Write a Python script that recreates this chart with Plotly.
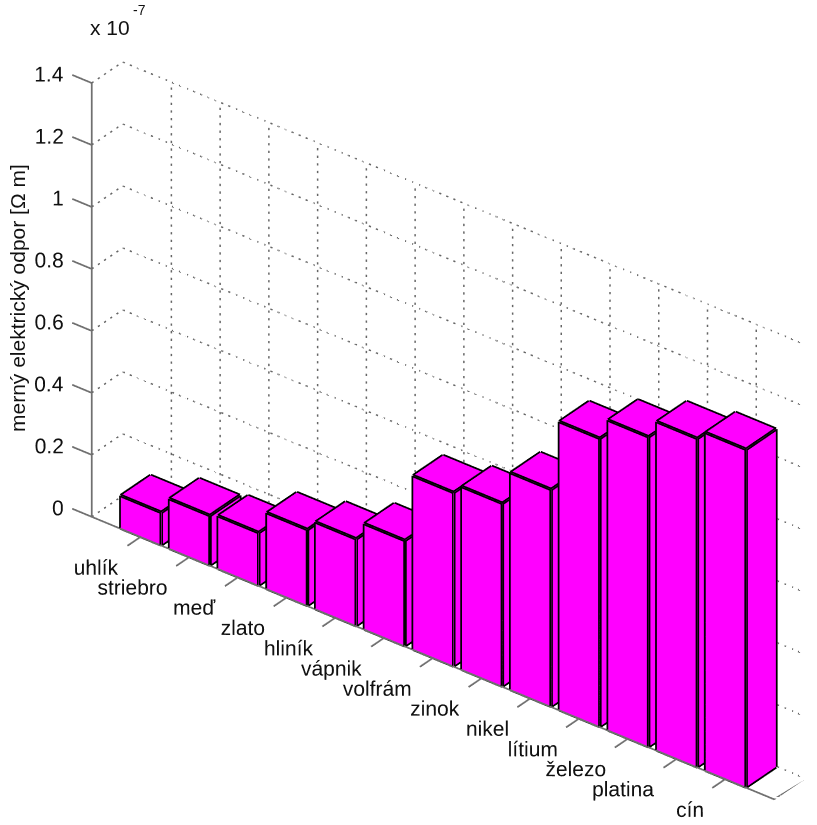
import math
import plotly.graph_objects as go

materials = ["uhlík", "striebro", "meď", "zlato", "hliník", "vápnik", "volfrám",
             "zinok", "nikel", "lítium", "železo", "platina", "cín"]
resistivity = [0.105, 0.16, 0.17, 0.245, 0.28, 0.34, 0.56, 0.59, 0.70, 0.93, 1.00, 1.06, 1.09]
z_ticks = [0, 0.2, 0.4, 0.6, 0.8, 1.0, 1.2, 1.4]
z_labels = ["0", "0.2", "0.4", "0.6", "0.8", "1", "1.2", "1.4"]

X0, X1 = 0.0, 14.0
Y0, Y1 = 0.0, 1.0
Z1 = 1.4
BW = 0.415
BY0, BY1 = 0.02, 0.98
MAGENTA = "#ff00ff"
TXT = "#111111"
FONT = "Liberation Sans"

vx, vy, vz, ti, tj, tk = [], [], [], [], [], []
ex, ey, ez = [], [], []
faces = [(0,1,2),(0,2,3),(4,5,6),(4,6,7),(0,1,5),(0,5,4),(1,2,6),(1,6,5),(2,3,7),(2,7,6),(3,0,4),(3,4,7)]
edges = [(0,1),(1,2),(2,3),(3,0),(4,5),(5,6),(6,7),(7,4),(0,4),(1,5),(2,6),(3,7)]
for n, h in enumerate(resistivity):
    c = n + 1
    pts = [(c-BW,BY0,0),(c+BW,BY0,0),(c+BW,BY1,0),(c-BW,BY1,0),
           (c-BW,BY0,h),(c+BW,BY0,h),(c+BW,BY1,h),(c-BW,BY1,h)]
    b = len(vx)
    for p in pts:
        vx.append(p[0]); vy.append(p[1]); vz.append(p[2])
    for f in faces:
        ti.append(b+f[0]); tj.append(b+f[1]); tk.append(b+f[2])
    for a, d in edges:
        ex += [pts[a][0], pts[d][0], None]
        ey += [pts[a][1], pts[d][1], None]
        ez += [pts[a][2], pts[d][2], None]

# dotted grid: short dashes along each grid line
gx, gy, gz = [], [], []
def dotted(p, q, px_len):
    steps = max(1, int(px_len / 7.6))
    for s in range(steps):
        t0 = s / steps
        t1 = (s + 0.3) / steps
        gx.extend([p[0]+(q[0]-p[0])*t0, p[0]+(q[0]-p[0])*t1, None])
        gy.extend([p[1]+(q[1]-p[1])*t0, p[1]+(q[1]-p[1])*t1, None])
        gz.extend([p[2]+(q[2]-p[2])*t0, p[2]+(q[2]-p[2])*t1, None])
for z in z_ticks:
    dotted((X0, Y0, z), (X0, Y1, z), 38)
    dotted((X0, Y1, z), (X1, Y1, z), 740)
for n in range(len(materials)):
    c = n + 1
    dotted((c, Y0, 0), (c, Y1, 0), 38)
    dotted((c, Y1, 0), (c, Y1, Z1), 434)

# solid axes and ticks
ax_x = [X0, X0, None, X0, X1, X1, None]
ax_y = [Y0, Y0, None, Y0, Y0, Y1, None]
ax_z = [0, Z1, None, 0, 0, 0, None]
for z in z_ticks:
    ax_x += [X0, X0-0.4, None]; ax_y += [Y0, Y0, None]; ax_z += [z, z, None]
for n in range(len(materials)):
    c = n + 1
    ax_x += [c, c, None]; ax_y += [Y0, Y0-0.42, None]; ax_z += [0, 0, None]

fig = go.Figure()
fig.add_trace(go.Scatter3d(x=gx, y=gy, z=gz, mode="lines",
                           line=dict(color="#666666", width=3), hoverinfo="skip"))
fig.add_trace(go.Scatter3d(x=ax_x, y=ax_y, z=ax_z, mode="lines",
                           line=dict(color="#707070", width=3.5), hoverinfo="skip"))
fig.add_trace(go.Mesh3d(x=vx, y=vy, z=vz, i=ti, j=tj, k=tk, color=MAGENTA, flatshading=True,
                        lighting=dict(ambient=1, diffuse=0, specular=0, fresnel=0, roughness=1),
                        hoverinfo="skip"))
fig.add_trace(go.Scatter3d(x=ex, y=ey, z=ez, mode="lines",
                           line=dict(color="#000000", width=7), hoverinfo="skip"))
fig.add_trace(go.Scatter3d(x=[i+1 for i in range(len(materials))], y=[Y0-0.05]*len(materials),
                           z=[0]*len(materials), mode="text", text=materials,
                           textposition="bottom left",
                           textfont=dict(family=FONT, size=21, color=TXT), hoverinfo="skip"))
fig.add_trace(go.Scatter3d(x=[X0-0.27]*len(z_ticks), y=[Y0+0.17]*len(z_ticks), z=z_ticks, mode="text",
                           text=z_labels, textposition="middle left",
                           textfont=dict(family=FONT, size=21, color=TXT), hoverinfo="skip"))

el = 32.0; phi = -52.0
R = 1.613
er, pr = math.radians(el), math.radians(phi)
eye = (R*math.cos(er)*math.cos(pr), R*math.cos(er)*math.sin(pr), R*math.sin(er))
right = (-math.sin(pr), math.cos(pr), 0)
up = (-math.sin(er)*math.cos(pr), -math.sin(er)*math.sin(pr), math.cos(er))
SHIFT_R, SHIFT_U = 0.0, 0.045
cen = tuple(SHIFT_R*right[i] + SHIFT_U*up[i] for i in range(3))

hidden = dict(visible=False, showgrid=False, zeroline=False, showspikes=False)
fig.update_layout(
    width=817, height=825, margin=dict(l=0, r=0, t=0, b=0), showlegend=False,
    paper_bgcolor="white",
    scene=dict(
        domain=dict(x=[0, 1], y=[0, 1]),
        xaxis=dict(range=[X0-1, X1], **hidden),
        yaxis=dict(range=[Y0-1, Y1], **hidden),
        zaxis=dict(range=[0, Z1], **hidden),
        aspectmode="manual", aspectratio=dict(x=2.249, y=0.244, z=1.24),
        camera=dict(projection=dict(type="orthographic"), up=dict(x=0, y=0, z=1),
                    eye=dict(x=eye[0]+cen[0], y=eye[1]+cen[1], z=eye[2]+cen[2]),
                    center=dict(x=cen[0], y=cen[1], z=cen[2])),
    ),
    annotations=[
        dict(text="x 10", x=88/817, y=1-28/825, xref="paper", yref="paper", xanchor="left",
             yanchor="middle", showarrow=False, font=dict(family=FONT, size=21, color=TXT)),
        dict(text="-7", x=131/817, y=1-10/825, xref="paper", yref="paper", xanchor="left",
             yanchor="middle", showarrow=False, font=dict(family=FONT, size=14, color=TXT)),
        dict(text="merný elektrický odpor [Ω m]", x=17/817, y=1-298/825, xref="paper", yref="paper",
             textangle=-90, xanchor="center", yanchor="middle", showarrow=False,
             font=dict(family=FONT, size=21, color=TXT)),
    ],
)
fig.write_html("out.html", config=dict(displayModeBar=False),
               post_script="document.body.style.margin='0';")
